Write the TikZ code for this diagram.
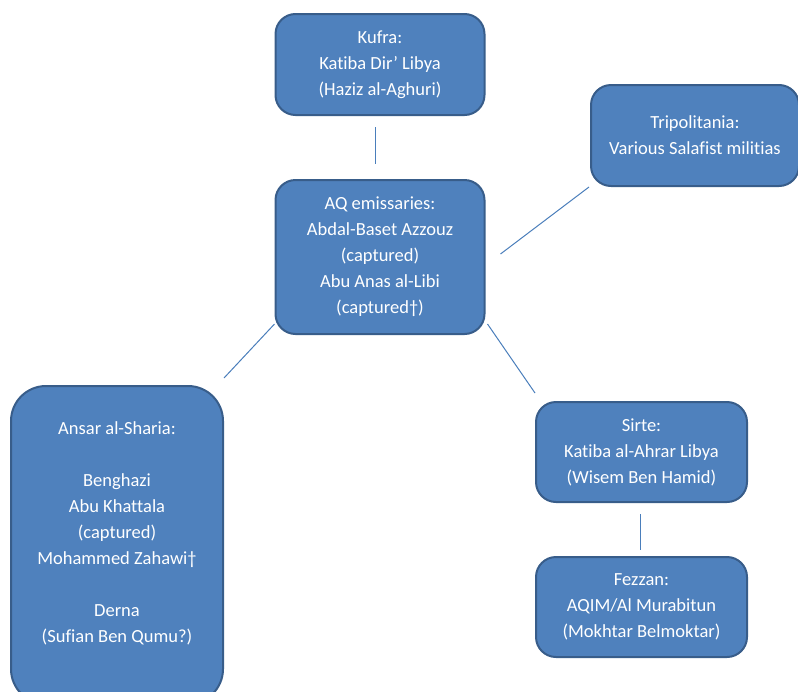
\documentclass[tikz,border=0pt]{standalone}
\usepackage{fontspec}
\setmainfont[Ligatures=NoCommon]{Carlito}

\definecolor{boxfill}{HTML}{4F81BD}
\definecolor{boxline}{HTML}{385D8A}
\definecolor{linkline}{HTML}{4A7EBB}

\tikzset{
    orgbox/.style={rectangle, rounded corners=20pt, fill=boxfill, draw=boxline,
        line width=2pt, text=white, align=center, inner sep=0pt,
        font=\fontsize{18.5}{26}\selectfont},
    boxtext/.style={text=white, align=center, inner sep=0pt,
        font=\fontsize{18.5}{26}\selectfont},
    link/.style={draw=linkline, line width=1pt}
}

\begin{document}
\begin{tikzpicture}[x=1pt, y=-1pt]
    \useasboundingbox (0,0) rectangle (798,691);
    \clip (0,0) rectangle (798,691);

    \node[orgbox, minimum width=209pt, minimum height=101pt] (kufra) at (380, 64.5)
        {Kufra:\\Katiba Dir’ Libya\\(Haziz al-Aghuri)};
    \node[orgbox, minimum width=208pt, minimum height=101pt] (trip) at (695, 135.5)
        {Tripolitania:\\Various Salafist militias};
    \node[orgbox, minimum width=209pt, minimum height=154pt] (aq) at (380, 257)
        {AQ emissaries:\\Abdal-Baset Azzouz\\(captured)\\Abu Anas al-Libi\\(captured†)};
    \node[orgbox, rounded corners=35pt, minimum width=212pt, minimum height=318pt] (ansar) at (117, 545) {};
    \node[boxtext] (ansartext) at (117, 533)
        {Ansar al-Sharia:\\ \\Benghazi\\Abu Khattala\\(captured)\\Mohammed Zahawi†\\ \\Derna\\(Sufian Ben Qumu?)};
    \node[orgbox, minimum width=211pt, minimum height=100pt] (sirte) at (641.5, 452)
        {Sirte:\\Katiba al-Ahrar Libya\\(Wisem Ben Hamid)};
    \node[orgbox, minimum width=211pt, minimum height=100pt] (fezzan) at (641.5, 607)
        {Fezzan:\\AQIM/Al Murabitun\\(Mokhtar Belmoktar)};

    \draw[link] ([xshift=-5pt, yshift=-11pt]kufra.south) -- ([xshift=-5pt, yshift=15pt]aq.north);
    \draw[link] ([xshift=15pt, yshift=3pt]aq.east) -- ([xshift=-1pt]trip.south west);
    \draw[link] ([yshift=11pt]aq.south west) -- ([yshift=7pt]ansar.north east);
    \draw[link] ([xshift=2pt, yshift=11pt]aq.south east) -- ([yshift=8pt]sirte.north west);
    \draw[link] ([xshift=-1.5pt, yshift=-11pt]sirte.south) -- ([xshift=-1.5pt, yshift=6pt]fezzan.north);
\end{tikzpicture}
\end{document}
